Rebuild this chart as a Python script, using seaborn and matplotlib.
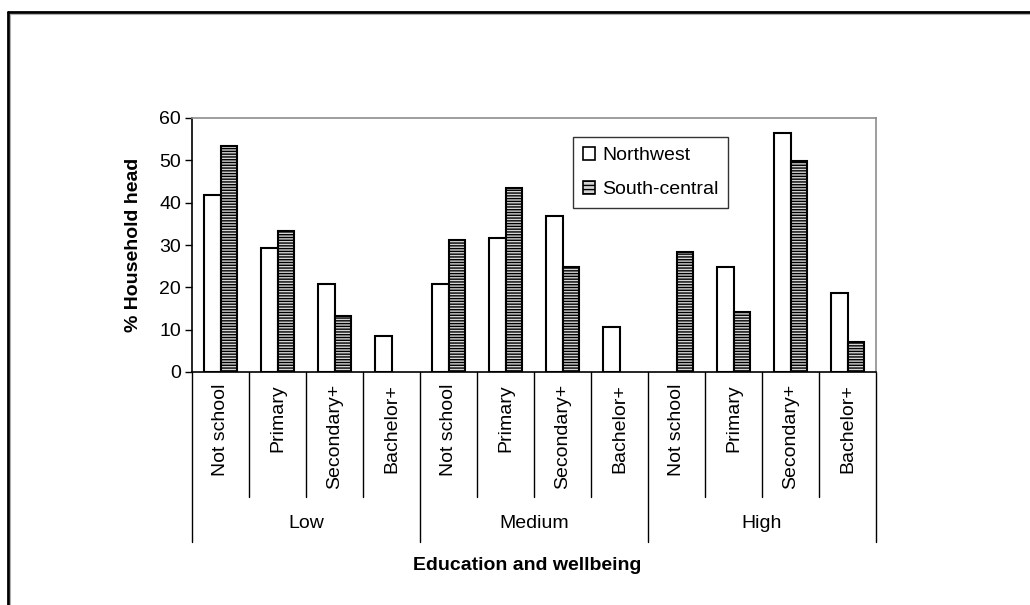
import numpy as np
import pandas as pd
import matplotlib
matplotlib.use("Agg")
import matplotlib.pyplot as plt
from matplotlib.patches import Patch
from matplotlib.lines import Line2D
import seaborn as sns

# data
groups = ["Low", "Medium", "High"]
levels = ["Not school", "Primary", "Secondary+", "Bachelor+"]
regions = ["Northwest", "South-central"]
northwest = [41.7, 29.4, 20.9, 8.5, 20.9, 31.6, 36.9, 10.7, 0.0, 24.9, 56.5, 18.7]
south_central = [53.3, 33.3, 13.3, 0.0, 31.1, 43.5, 24.9, 0.0, 28.4, 14.2, 49.8, 7.2]
yticks = [0, 10, 20, 30, 40, 50, 60]

sns.set_style("white")
plt.rcParams["font.family"] = ["Liberation Sans", "DejaVu Sans"]
plt.rcParams["hatch.linewidth"] = 1.0
for k in ["text.color", "axes.labelcolor", "xtick.color", "ytick.color"]:
    plt.rcParams[k] = "black"
FS = 14

# build long dataframe
keys = [g + "|" + l for g in groups for l in levels]
df = pd.DataFrame({
    "key": keys * 2,
    "value": northwest + south_central,
    "region": [regions[0]] * len(keys) + [regions[1]] * len(keys),
})

W, H = 1030, 605
fig = plt.figure(figsize=(W / 100, H / 100), dpi=100)
ax = fig.add_axes([192 / W, 1 - 372 / H, (876 - 192) / W, (372 - 118) / H])

sns.barplot(data=df, x="key", y="value", hue="region", order=keys,
            hue_order=regions, palette=["white", "#d4d4d4"],
            edgecolor="black", linewidth=1.5, width=0.58, gap=0,
            saturation=1, legend=False, ax=ax)

# horizontal stripes on the second series
for bar in ax.containers[1]:
    bar.set_hatch("------")
# empty bars are not drawn in the reference
for cont in ax.containers:
    for bar in cont:
        if bar.get_height() == 0:
            bar.set_visible(False)

ax.set_ylim(0, 60)
ax.set_xlim(-0.5, len(keys) - 0.5)
ax.set_yticks(yticks)
ax.set_yticklabels([str(t) for t in yticks], fontsize=FS, color="black")
ax.tick_params(axis="y", direction="out", length=5, width=1, color="black", pad=3, left=True)
ax.set_xticks([])
ax.set_xlabel("")
ax.set_ylabel("% Household head", fontsize=FS, fontweight="bold", labelpad=12, color="black")

for side in ["top", "right"]:
    ax.spines[side].set_color("#8c8c8c")
    ax.spines[side].set_linewidth(1.2)
for side in ["left", "bottom"]:
    ax.spines[side].set_color("black")
    ax.spines[side].set_linewidth(1.2)

# multi-level category axis
trans = ax.get_xaxis_transform()
def ypix(p):
    # pixel row below axes -> axes fraction
    return -(p - 372) / (372 - 118)

n = len(keys)
for i in range(n + 1):
    x = i - 0.5
    bottom = 542 if i % len(levels) == 0 else 497
    ax.add_line(Line2D([x, x], [0, ypix(bottom)], transform=trans,
                       color="black", lw=1, clip_on=False))
for i, k in enumerate(keys):
    ax.text(i, ypix(384), k.split("|")[1], transform=trans, rotation=90,
            ha="center", va="top", fontsize=FS, color="black")
for j, g in enumerate(groups):
    ax.text(j * len(levels) + (len(levels) - 1) / 2, ypix(524), g,
            transform=trans, ha="center", va="center", fontsize=FS, color="black")

fig.text(527 / W, 1 - 566 / H, "Education and wellbeing", ha="center",
         va="center", fontsize=FS, fontweight="bold", color="black")

# legend
handles = [Patch(facecolor="white", edgecolor="black", lw=1.2),
           Patch(facecolor="#d4d4d4", edgecolor="black", lw=1.2, hatch="----")]
leg = ax.legend(handles, regions, loc="upper left", bbox_to_anchor=(0.557, 0.925),
                borderaxespad=0, fontsize=FS, frameon=True, fancybox=False,
                handlelength=0.65, handleheight=0.65, handletextpad=0.35,
                labelspacing=0.85, borderpad=0.5)
leg.get_frame().set_edgecolor("black")
leg.get_frame().set_linewidth(1)
for t in leg.get_texts():
    t.set_color("black")

# outer border (left and top only)
fig.add_artist(Line2D([8 / W, 8 / W], [0, 1 - 12 / H], color="black", lw=2))
fig.add_artist(Line2D([8 / W, 1], [1 - 12 / H, 1 - 12 / H], color="black", lw=2))
fig.add_artist(Line2D([10 / W, 10 / W], [0, 1 - 14 / H], color="#b0b0b0", lw=0.8))
fig.add_artist(Line2D([10 / W, 1], [1 - 14 / H, 1 - 14 / H], color="#b0b0b0", lw=0.8))

fig.savefig("out.png", dpi=100)
